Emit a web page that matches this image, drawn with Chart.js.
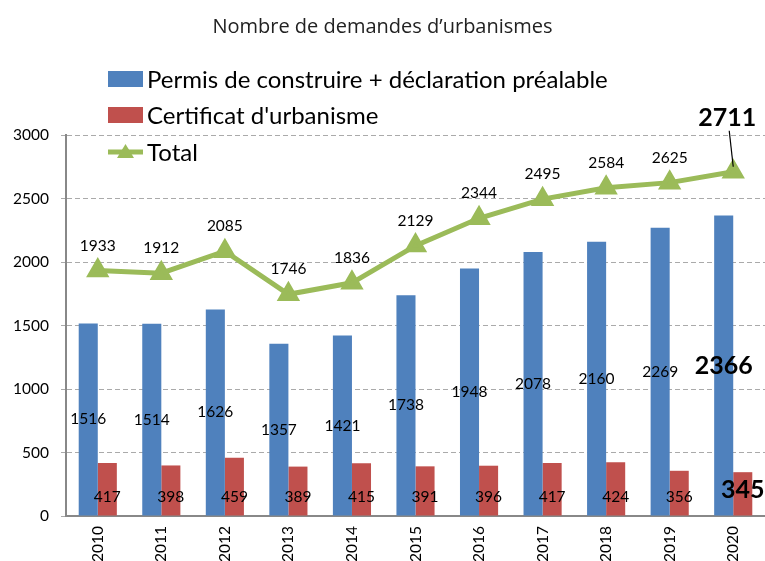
<!DOCTYPE html>
<html>
<head>
<meta charset="utf-8">
<script src="https://cdn.jsdelivr.net/npm/chart.js@4.4.1/dist/chart.umd.min.js"></script>
<style>
  html, body { margin: 0; padding: 0; background: #fff; }
  #wrap { width: 765px; height: 561px; }
</style>
</head>
<body>
<div id="wrap"><canvas id="chart" width="765" height="561"></canvas></div>
<script>
// data
const years = ['2010', '2011', '2012', '2013', '2014', '2015', '2016', '2017', '2018', '2019', '2020'];
const permis = [1516, 1514, 1626, 1357, 1421, 1738, 1948, 2078, 2160, 2269, 2366];
const certificat = [417, 398, 459, 389, 415, 391, 396, 417, 424, 356, 345];
const total = [1933, 1912, 2085, 1746, 1836, 2129, 2344, 2495, 2584, 2625, 2711];

const BLUE = '#4F81BD', RED = '#C0504D', GREEN = '#9BBB59';
const FONT = "Lato, 'Noto Sans', sans-serif";

// value labels drawn on the bars and points
const labelPlugin = {
  id: 'labels',
  afterDatasetsDraw(chart) {
    const ctx = chart.ctx;
    const last = years.length - 1;
    ctx.save();
    ctx.fillStyle = '#000';
    ctx.textAlign = 'center';
    ctx.textBaseline = 'middle';
    chart.data.datasets.forEach((ds, di) => {
      const meta = chart.getDatasetMeta(di);
      meta.data.forEach((el, i) => {
        const v = ds.data[i];
        const big = i === last;
        ctx.font = (big ? 'bold 25px ' : '15.5px ') + FONT;
        let x = el.x, y;
        if (di === 0) {
          y = (el.y + el.base) / 2;
        } else if (di === 1) {
          y = el.base - (big ? 26 : 19);
        } else {
          y = el.y - (big ? 54 : 25);
          if (big) {
            x = el.x - 6;
            ctx.strokeStyle = '#000';
            ctx.lineWidth = 1.2;
            ctx.beginPath();
            ctx.moveTo(el.x - 4, el.y - 41);
            ctx.lineTo(el.x, el.y - 5);
            ctx.stroke();
          }
        }
        ctx.fillText(String(v), x, y);
      });
    });
    ctx.restore();
  }
};

// vertical legend in the top-left, over the plot
const legendPlugin = {
  id: 'vlegend',
  afterDraw(chart) {
    const ctx = chart.ctx;
    const x0 = 108, rows = [79, 115, 152];
    ctx.save();
    ctx.font = '24px ' + FONT;
    ctx.textBaseline = 'middle';
    ctx.textAlign = 'left';
    chart.data.datasets.forEach((ds, i) => {
      const y = rows[i];
      if (ds.type === 'line') {
        ctx.strokeStyle = GREEN;
        ctx.lineWidth = 5;
        ctx.beginPath();
        ctx.moveTo(x0, y);
        ctx.lineTo(x0 + 35, y);
        ctx.stroke();
        ctx.fillStyle = GREEN;
        ctx.beginPath();
        ctx.moveTo(x0 + 17.5, y - 8);
        ctx.lineTo(x0 + 26, y + 6);
        ctx.lineTo(x0 + 9, y + 6);
        ctx.closePath();
        ctx.fill();
      } else {
        ctx.fillStyle = ds.backgroundColor;
        ctx.fillRect(x0, y - 8, 35, 16);
      }
      ctx.fillStyle = '#000';
      ctx.fillText(ds.label, x0 + 39, y + 1);
    });
    ctx.restore();
  }
};

new Chart(document.getElementById('chart'), {
  data: {
    labels: years,
    datasets: [
      {
        type: 'bar',
        label: 'Permis de construire + déclaration préalable',
        data: permis,
        backgroundColor: BLUE,
        barPercentage: 1,
        categoryPercentage: 0.6,
        order: 2
      },
      {
        type: 'bar',
        label: "Certificat d'urbanisme",
        data: certificat,
        backgroundColor: RED,
        barPercentage: 1,
        categoryPercentage: 0.6,
        order: 2
      },
      {
        type: 'line',
        label: 'Total',
        data: total,
        borderColor: GREEN,
        backgroundColor: GREEN,
        borderWidth: 5,
        pointStyle: 'triangle',
        pointRadius: 8.5,
        pointHoverRadius: 8.5,
        tension: 0,
        order: 1
      }
    ]
  },
  options: {
    responsive: false,
    animation: false,
    events: [],
    layout: { autoPadding: false, padding: 0 },
    plugins: {
      legend: { display: false },
      tooltip: { enabled: false },
      title: {
        display: true,
        text: 'Nombre de demandes d\u2019urbanismes',
        color: '#222',
        font: { family: "'Open Sans', sans-serif", size: 20, weight: '500' },
        padding: { top: 15, bottom: 96 }
      }
    },
    scales: {
      x: {
        grid: { display: false },
        border: { color: '#888', width: 2, dash: [2, 2] },
        ticks: {
          color: '#000',
          font: { family: FONT, size: 15.5 },
          minRotation: 90,
          maxRotation: 90,
          padding: 2
        },
        afterFit(scale) {
          scale.height = 45;
        }
      },
      y: {
        min: 0,
        max: 3000,
        ticks: {
          stepSize: 500,
          color: '#000',
          font: { family: FONT, size: 15.5 },
          padding: 12,
          callback: (v) => String(v)
        },
        grid: { color: '#aaa', tickLength: 5 },
        border: { color: '#888', width: 2, dash: [5, 3] },
        afterFit(scale) { scale.width = 66; }
      }
    }
  },
  plugins: [labelPlugin, legendPlugin]
});
</script>
</body>
</html>
